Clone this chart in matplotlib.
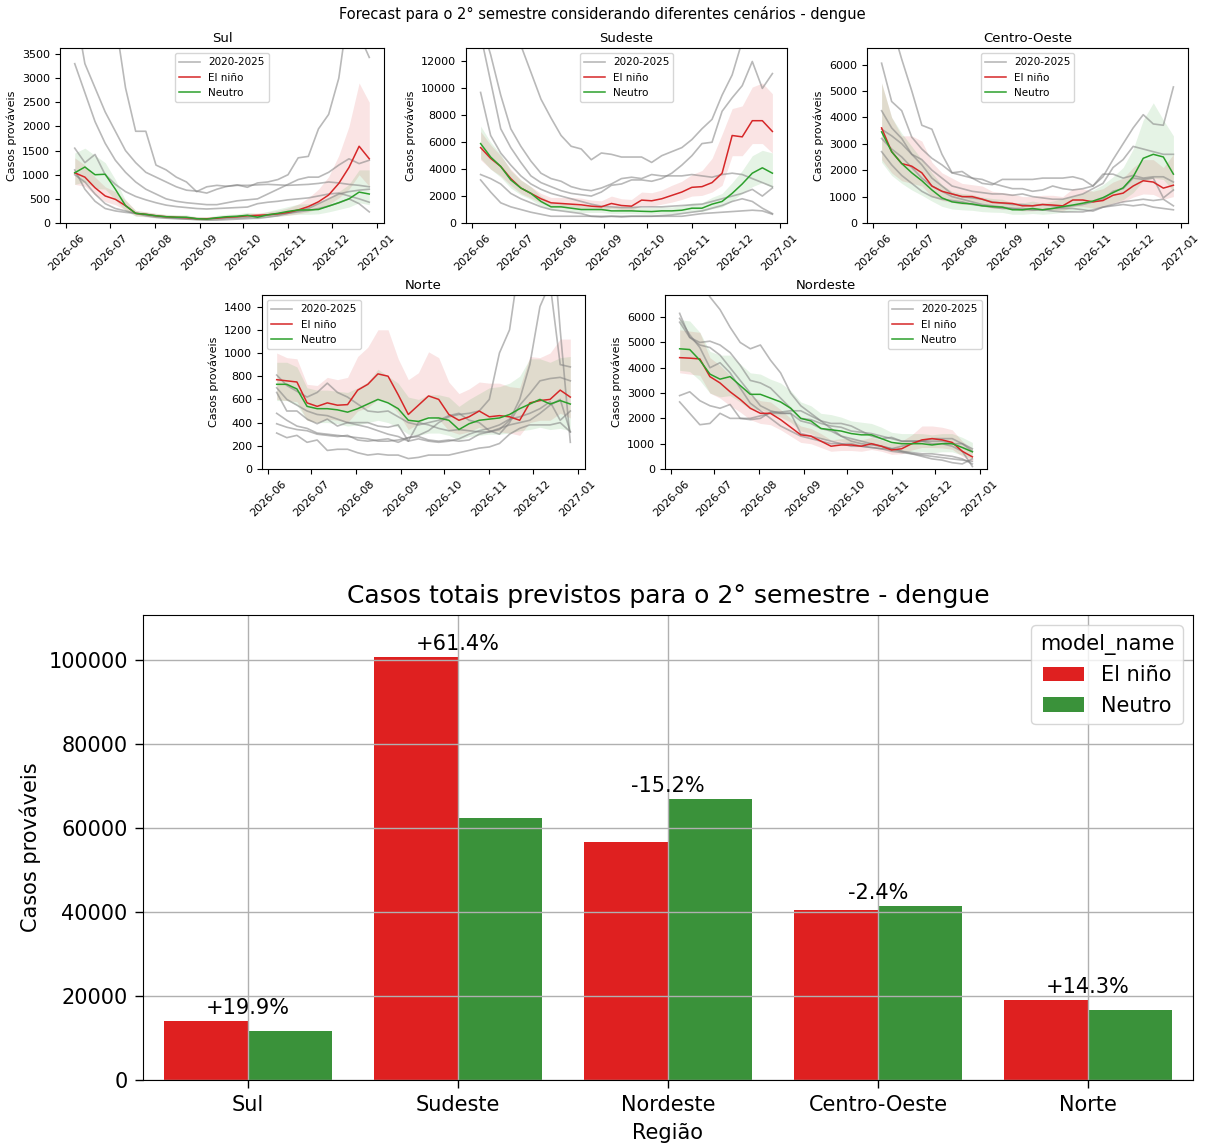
import matplotlib
matplotlib.use("Agg")
import matplotlib.pyplot as plt
import matplotlib.dates as mdates
from matplotlib.ticker import MaxNLocator
import pandas as pd

# Weekly forecast horizon (epidemiological weeks, 2nd semester)
weeks = pd.date_range("2026-06-07", periods=30, freq="7D")

# ---------------- Sul ----------------
sul_elnino = [1040, 950, 730, 560, 490, 360, 200, 180, 150, 130, 120, 110, 90, 90, 100,
              120, 130, 150, 160, 170, 190, 220, 270, 340, 440, 580, 820, 1150, 1590, 1330]
sul_elnino_lo = [800, 760, 580, 440, 380, 270, 150, 130, 110, 100, 90, 80, 65, 65, 75,
                 90, 100, 110, 120, 130, 140, 160, 190, 230, 300, 380, 520, 700, 1000, 760]
sul_elnino_hi = [1350, 1200, 950, 750, 650, 480, 260, 230, 200, 170, 160, 150, 120, 120, 130,
                 160, 170, 200, 210, 230, 260, 310, 390, 520, 700, 960, 1400, 2000, 2900, 2500]
sul_neutro = [1040, 1160, 1000, 1010, 700, 360, 200, 180, 150, 130, 120, 120, 90, 80, 110,
              130, 140, 160, 120, 170, 200, 240, 270, 270, 280, 350, 420, 500, 640, 600]
sul_neutro_lo = [800, 850, 720, 700, 480, 250, 140, 130, 100, 90, 80, 80, 60, 50, 70,
                 90, 100, 110, 80, 120, 140, 160, 180, 180, 190, 230, 280, 330, 420, 380]
sul_neutro_hi = [1450, 1550, 1400, 1250, 900, 470, 260, 230, 200, 180, 170, 170, 130, 120, 160,
                 180, 190, 220, 190, 240, 290, 340, 390, 400, 420, 520, 650, 800, 1100, 1100]
sul_hist = [
    [9000, 7500, 6000, 5000, 4200, 2800, 1900, 1900, 1200, 1100, 950, 850, 650, 750, 780,
     760, 790, 740, 830, 850, 900, 1000, 1350, 1380, 1950, 2250, 3000, 4500, 3900, 3430],
    [4500, 3300, 2800, 2300, 1900, 1500, 1250, 1050, 950, 850, 750, 680, 660, 620, 700,
     760, 780, 780, 790, 800, 790, 780, 790, 800, 820, 850, 830, 800, 780, 750],
    [3300, 2700, 2100, 1650, 1300, 1050, 850, 700, 600, 500, 450, 420, 400, 380, 380,
     420, 460, 480, 500, 600, 700, 800, 900, 950, 950, 1050, 1200, 1330, 1230, 1300],
    [1550, 1250, 1420, 1000, 800, 650, 550, 480, 420, 370, 340, 320, 300, 290, 300,
     310, 320, 330, 400, 430, 450, 480, 500, 520, 560, 600, 620, 560, 500, 430],
    [1100, 700, 450, 300, 250, 220, 200, 170, 140, 120, 100, 90, 80, 80, 90,
     100, 110, 120, 140, 160, 180, 200, 230, 260, 300, 350, 420, 500, 400, 230],
    [1000, 850, 600, 400, 300, 250, 200, 150, 120, 100, 90, 80, 70, 60, 60,
     70, 80, 90, 100, 120, 150, 200, 250, 300, 400, 500, 600, 650, 680, 700],
]

# ---------------- Sudeste ----------------
se_elnino = [5600, 4800, 4200, 3300, 2600, 2200, 1800, 1500, 1450, 1400, 1350, 1250, 1200, 1450, 1300,
             1250, 1700, 1650, 1800, 2050, 2300, 2650, 2700, 3000, 3700, 6500, 6400, 7600, 7600, 6800]
se_elnino_lo = [4700, 4000, 3500, 2800, 2200, 1850, 1500, 1200, 1150, 1100, 1050, 1000, 950, 1100, 1000,
                950, 1300, 1250, 1400, 1550, 1750, 2000, 2050, 2300, 2800, 5000, 5000, 5900, 5900, 5200]
se_elnino_hi = [6800, 5800, 5000, 4000, 3200, 2700, 2200, 1900, 1900, 1900, 1850, 1700, 1650, 2000, 1800,
                1750, 2300, 2250, 2450, 2800, 3100, 3600, 3900, 4800, 6600, 8500, 8700, 10100, 10400, 9600]
se_neutro = [5900, 4900, 4200, 3200, 2600, 2200, 1600, 1200, 1200, 1100, 1000, 1000, 1000, 900, 900,
             900, 870, 850, 900, 900, 950, 1100, 1100, 1400, 1600, 2200, 2900, 3700, 4100, 3700]
se_neutro_lo = [4800, 4000, 3400, 2600, 2100, 1750, 1250, 950, 950, 850, 780, 780, 780, 700, 700,
                700, 670, 650, 700, 700, 730, 850, 850, 1050, 1200, 1650, 2200, 2700, 3000, 2600]
se_neutro_hi = [7200, 6000, 5100, 3900, 3200, 2700, 2000, 1550, 1500, 1400, 1300, 1300, 1300, 1200, 1200,
                1200, 1150, 1150, 1200, 1200, 1300, 1500, 1500, 1900, 2200, 3000, 3900, 5000, 5400, 5200]
se_hist = [
    [15000, 12500, 9500, 7000, 5700, 4600, 3700, 3300, 3100, 2700, 2500, 2400, 2600, 2900, 3300,
     3400, 3300, 3600, 3500, 3500, 3500, 3600, 3500, 3400, 3600, 3700, 3600, 3300, 3000, 2700],
    [14000, 10500, 7000, 5600, 4500, 3500, 3000, 2700, 2400, 2200, 2100, 2000, 2300, 2800, 2900,
     3200, 3200, 3100, 3300, 3700, 4300, 5000, 5900, 6000, 8300, 9300, 10200, 12000, 10000, 11100],
    [20000, 18000, 16000, 14500, 13200, 11200, 9200, 7800, 6500, 5700, 5500, 4700, 5200, 5100, 4900,
     4900, 4900, 4500, 5000, 5300, 5600, 6200, 7000, 7700, 9500, 11000, 13500, 16000, 18000, 19000],
    [9700, 6500, 5200, 4300, 3500, 2900, 2500, 2200, 2000, 1800, 1600, 1400, 1250, 1200, 1150,
     1150, 1200, 1200, 1200, 1250, 1300, 1350, 1400, 1600, 1800, 2000, 2200, 2500, 2000, 2600],
    [3600, 3300, 2900, 2200, 1800, 1500, 1200, 1000, 900, 800, 700, 500, 450, 500, 450,
     500, 500, 500, 550, 600, 700, 800, 900, 1100, 1300, 1600, 1800, 1600, 1100, 700],
    [3200, 2300, 1500, 1200, 1000, 800, 650, 500, 500, 500, 500, 500, 500, 500, 500,
     500, 500, 500, 500, 500, 500, 600, 700, 750, 800, 850, 900, 950, 900, 650],
]

# ---------------- Centro-Oeste ----------------
co_elnino = [3600, 2700, 2250, 2150, 1900, 1400, 1200, 1100, 1000, 1000, 900, 780, 760, 740, 650,
             650, 700, 680, 650, 870, 870, 800, 850, 1050, 1130, 1400, 1600, 1550, 1320, 1430]
co_elnino_lo = [2400, 1900, 1600, 1500, 1400, 1000, 850, 780, 700, 700, 650, 560, 540, 520, 460,
                460, 500, 480, 460, 620, 620, 570, 600, 740, 800, 980, 1100, 1080, 900, 1000]
co_elnino_hi = [5300, 4000, 3300, 3300, 3100, 2300, 1900, 1700, 1500, 1450, 1400, 1200, 1150, 1100, 1000,
                1000, 1050, 1050, 1000, 1300, 1300, 1200, 1300, 1550, 1700, 2100, 2400, 2400, 2100, 2600]
co_neutro = [3450, 2700, 2250, 1900, 1600, 1250, 950, 800, 750, 720, 650, 620, 600, 500, 500,
             550, 500, 550, 620, 680, 750, 830, 960, 1150, 1330, 1750, 2450, 2600, 2500, 1850]
co_neutro_lo = [2300, 1800, 1500, 1250, 1050, 830, 630, 530, 500, 480, 430, 410, 400, 330, 330,
                360, 330, 360, 410, 450, 500, 550, 640, 760, 880, 1150, 1600, 1700, 1650, 1200]
co_neutro_hi = [5300, 4000, 3400, 2900, 2400, 1900, 1450, 1200, 1120, 1080, 980, 930, 900, 760, 760,
                830, 760, 830, 930, 1030, 1130, 1250, 1450, 1750, 2100, 2800, 3900, 4550, 3900, 3300]
co_hist = [
    [9000, 7500, 6200, 5000, 3700, 3550, 2600, 1900, 1950, 1700, 1500, 1450, 1650, 1650, 1650,
     1650, 1700, 1700, 1700, 1750, 1650, 1400, 1850, 1850, 1700, 1800, 1700, 1750, 1750, 1550],
    [6050, 4600, 4250, 3250, 2800, 2450, 2200, 1900, 1800, 1700, 1650, 1500, 1400, 1300, 1300,
     1200, 1250, 1400, 1300, 1250, 1300, 1400, 1750, 2400, 3000, 3600, 4100, 3750, 3700, 5150],
    [4250, 3600, 3200, 2600, 2400, 2000, 1700, 1400, 1300, 1200, 1150, 1100, 1100, 1050, 1100,
     1000, 950, 900, 900, 1000, 1100, 1300, 1500, 2100, 2400, 2900, 2800, 2700, 2600, 2600],
    [3550, 3300, 3000, 2600, 2200, 1700, 1400, 1100, 1000, 950, 900, 800, 750, 700, 700,
     650, 700, 650, 600, 650, 700, 800, 900, 1200, 1300, 1700, 1650, 1700, 950, 1250],
    [2700, 2200, 1800, 1500, 1200, 1000, 900, 850, 800, 700, 650, 600, 550, 550, 500,
     500, 500, 550, 550, 550, 500, 450, 600, 700, 800, 850, 900, 850, 900, 650],
    [3200, 2800, 2500, 2100, 1700, 1400, 1200, 1000, 900, 800, 700, 650, 600, 550, 550,
     500, 500, 450, 420, 420, 420, 500, 600, 650, 700, 650, 700, 600, 550, 500],
]

# ---------------- Norte ----------------
no_elnino = [770, 760, 750, 570, 540, 570, 550, 555, 680, 730, 820, 800, 640, 470, 550,
             630, 600, 470, 420, 450, 500, 450, 460, 450, 420, 570, 590, 600, 680, 620]
no_elnino_lo = [600, 590, 580, 420, 400, 430, 420, 400, 500, 530, 600, 580, 480, 340, 390,
                460, 430, 330, 300, 320, 360, 320, 320, 310, 290, 400, 420, 420, 480, 440]
no_elnino_hi = [1000, 960, 950, 730, 720, 790, 770, 790, 970, 1050, 1200, 1200, 950, 770, 830,
                1010, 960, 750, 650, 690, 750, 740, 740, 710, 700, 970, 960, 1000, 1120, 1120]
no_neutro = [730, 730, 690, 540, 520, 520, 510, 490, 520, 560, 600, 570, 520, 420, 410,
             440, 440, 420, 340, 390, 420, 430, 440, 470, 520, 560, 600, 560, 590, 560]
no_neutro_lo = [590, 590, 550, 420, 400, 400, 390, 370, 380, 400, 420, 400, 360, 300, 290,
                310, 310, 290, 250, 280, 290, 300, 300, 310, 330, 340, 360, 340, 350, 330]
no_neutro_hi = [920, 920, 880, 700, 680, 680, 670, 660, 700, 750, 860, 800, 740, 620, 600,
                640, 640, 620, 540, 600, 650, 700, 710, 740, 800, 950, 950, 920, 960, 970]
no_hist = [
    [810, 720, 670, 620, 660, 740, 660, 620, 560, 500, 490, 500, 450, 400, 380,
     400, 420, 460, 480, 420, 400, 330, 300, 400, 550, 650, 760, 780, 790, 760],
    [660, 500, 500, 430, 390, 430, 370, 400, 400, 400, 370, 360, 380, 240, 400,
     380, 350, 330, 340, 330, 320, 320, 340, 420, 600, 900, 1400, 1600, 900, 880],
    [480, 420, 370, 350, 310, 300, 290, 280, 270, 260, 240, 240, 250, 270, 290,
     330, 400, 450, 470, 480, 500, 600, 1000, 1200, 1800, 2200, 2500, 2300, 1200, 230],
    [390, 360, 340, 330, 300, 290, 280, 290, 250, 240, 250, 260, 230, 270, 280,
     250, 240, 250, 240, 250, 300, 320, 350, 380, 400, 420, 480, 550, 600, 320],
    [310, 270, 290, 230, 250, 160, 170, 170, 140, 120, 130, 120, 120, 90, 100,
     120, 120, 120, 140, 160, 180, 190, 220, 300, 350, 380, 380, 380, 400, 320],
    [700, 600, 550, 500, 470, 460, 430, 400, 380, 360, 330, 300, 280, 240, 260,
     240, 230, 240, 260, 300, 330, 350, 380, 430, 450, 480, 520, 580, 420, 500],
]

# ---------------- Nordeste ----------------
ne_elnino = [4400, 4380, 4350, 3650, 3400, 3050, 2750, 2400, 2200, 2200, 1950, 1650, 1350, 1300, 1100,
             900, 950, 950, 900, 1000, 900, 750, 800, 1000, 1150, 1200, 1150, 1050, 700, 480]
ne_elnino_lo = [3800, 3750, 3700, 3000, 2800, 2500, 2250, 1950, 1800, 1750, 1550, 1300, 1050, 1000, 850,
                700, 730, 730, 700, 770, 700, 580, 600, 750, 850, 850, 830, 780, 500, 300]
ne_elnino_hi = [5500, 5450, 5400, 4400, 4100, 3700, 3300, 2900, 2700, 2650, 2350, 2000, 1700, 1600, 1400,
                1150, 1200, 1200, 1150, 1250, 1150, 1000, 1100, 1350, 1700, 1700, 1650, 1550, 1100, 800]
ne_neutro = [4750, 4720, 4300, 3750, 3550, 3650, 3300, 2950, 2950, 2800, 2650, 2400, 2000, 1900, 1600,
             1550, 1500, 1400, 1350, 1350, 1200, 1050, 1000, 1000, 1000, 950, 1000, 1000, 850, 680]
ne_neutro_lo = [3900, 3850, 3500, 3000, 2850, 2900, 2650, 2350, 2350, 2200, 2050, 1850, 1500, 1400, 1200,
                1150, 1100, 1000, 950, 950, 850, 720, 680, 680, 680, 640, 680, 680, 550, 400]
ne_neutro_hi = [5900, 5850, 5400, 4650, 4500, 4500, 4150, 3800, 3750, 3550, 3400, 3100, 2650, 2500, 2200,
                2150, 2050, 1900, 1850, 1800, 1650, 1450, 1400, 1400, 1400, 1350, 1400, 1400, 1250, 1050]
ne_hist = [
    [9500, 8500, 7500, 6800, 6300, 5600, 5000, 4750, 4900, 4300, 3800, 3000, 2500, 2200, 1900,
     1800, 1800, 1700, 1500, 1300, 1200, 1250, 1100, 1100, 1100, 1100, 1100, 1000, 1000, 800],
    [6150, 5200, 5000, 5050, 4900, 4600, 4100, 3500, 3400, 3200, 2800, 2400, 2000, 1950, 1800,
     1700, 1650, 1500, 1450, 1400, 1300, 1200, 1100, 1100, 1100, 1000, 1000, 900, 700, 100],
    [5950, 5300, 4800, 4000, 4200, 3800, 3200, 2600, 2300, 2000, 1700, 1500, 1300, 1200, 1100,
     1000, 1000, 900, 900, 850, 800, 700, 650, 600, 550, 500, 450, 400, 350, 300],
    [5800, 5200, 4900, 4800, 4500, 4000, 3500, 3000, 2500, 2300, 2200, 2200, 1900, 1800, 1600,
     1500, 1300, 1200, 1100, 1000, 900, 800, 700, 650, 600, 600, 550, 500, 400, 200],
    [2900, 3050, 2700, 2500, 2400, 2550, 2000, 1950, 2000, 2250, 2250, 2300, 2300, 2100, 1900,
     1600, 1300, 1100, 1000, 950, 900, 800, 700, 600, 500, 400, 350, 250, 200, 400],
    [2650, 2200, 1750, 1800, 2200, 2000, 2000, 2000, 2100, 2200, 2200, 2200, 1400, 1300, 1200,
     1100, 1000, 1000, 900, 850, 800, 800, 900, 1000, 1100, 1200, 1200, 1200, 1000, 700],
]

# ---------------- Semester totals ----------------
regions = ["Sul", "Sudeste", "Nordeste", "Centro-Oeste", "Norte"]
total_elnino = [13970, 100550, 56650, 40360, 18920]
total_neutro = [11650, 62300, 66800, 41350, 16550]

W, H = 1205, 1145
fig = plt.figure(figsize=(W / 100, H / 100), dpi=100)


def px_rect(x0, y0, x1, y1):
    return [x0 / W, 1 - y1 / H, (x1 - x0) / W, (y1 - y0) / H]


def draw_panel(ax, title, hist, el, el_lo, el_hi, neu, neu_lo, neu_hi, loc):
    for i, serie in enumerate(hist):
        ax.plot(weeks, serie, color="grey", alpha=0.55, lw=1.2,
                label="2020-2025" if i == 0 else None)
    ax.fill_between(weeks, el_lo, el_hi, color="tab:red", alpha=0.12, lw=0)
    ax.plot(weeks, el, color="tab:red", lw=1.1, label="El niño")
    ax.fill_between(weeks, neu_lo, neu_hi, color="tab:green", alpha=0.12, lw=0)
    ax.plot(weeks, neu, color="tab:green", lw=1.1, label="Neutro")
    ax.set_ylim(0, 1.25 * max(el_hi))
    ax.yaxis.set_major_locator(MaxNLocator(8))
    ax.set_title(title, fontsize=9.5, pad=4)
    ax.set_ylabel("Casos prováveis", fontsize=8)
    ax.xaxis.set_major_locator(mdates.MonthLocator())
    ax.xaxis.set_major_formatter(mdates.DateFormatter("%Y-%m"))
    ax.tick_params(labelsize=8)
    for lbl in ax.get_xticklabels():
        lbl.set_rotation(45)
        lbl.set_ha("center")
    ax.legend(loc=loc, fontsize=7.5)


panels = [
    ("Sul", (60, 48, 384, 223), sul_hist, sul_elnino, sul_elnino_lo, sul_elnino_hi,
     sul_neutro, sul_neutro_lo, sul_neutro_hi, "upper center"),
    ("Sudeste", (466, 48, 787, 223), se_hist, se_elnino, se_elnino_lo, se_elnino_hi,
     se_neutro, se_neutro_lo, se_neutro_hi, "upper center"),
    ("Centro-Oeste", (867, 48, 1188, 223), co_hist, co_elnino, co_elnino_lo, co_elnino_hi,
     co_neutro, co_neutro_lo, co_neutro_hi, "upper center"),
    ("Norte", (262, 295, 585, 469), no_hist, no_elnino, no_elnino_lo, no_elnino_hi,
     no_neutro, no_neutro_lo, no_neutro_hi, "upper left"),
    ("Nordeste", (665, 295, 987, 469), ne_hist, ne_elnino, ne_elnino_lo, ne_elnino_hi,
     ne_neutro, ne_neutro_lo, ne_neutro_hi, "upper right"),
]

for name, box, hist, el, el_lo, el_hi, neu, neu_lo, neu_hi, loc in panels:
    ax = fig.add_axes(px_rect(*box))
    draw_panel(ax, name, hist, el, el_lo, el_hi, neu, neu_lo, neu_hi, loc)

fig.text(0.5, 1 - 14 / H, "Forecast para o 2° semestre considerando diferentes cenários - dengue",
         ha="center", va="center", fontsize=10.5)

# ---------------- Bar chart of totals ----------------
bx = fig.add_axes(px_rect(143, 615, 1193, 1080))
pos = list(range(len(regions)))
bx.bar([p - 0.2 for p in pos], total_elnino, width=0.4, color="#df2020", label="El niño")
bx.bar([p + 0.2 for p in pos], total_neutro, width=0.4, color="#3a923a", label="Neutro")
bx.set_xlim(-0.5, len(regions) - 0.5)
bx.set_ylim(0, 1.1 * max(total_elnino + total_neutro))
bx.set_xticks(pos)
bx.set_xticklabels(regions)
bx.tick_params(labelsize=15, length=5.5, pad=5.5, width=1)
bx.grid(True, color="#b0b0b0", lw=1.0)
bx.set_xlabel("Região", fontsize=15, labelpad=5.5)
bx.set_ylabel("Casos prováveis", fontsize=15, labelpad=5)
bx.set_title("Casos totais previstos para o 2° semestre - dengue", fontsize=18, pad=8.7)
for p, e, n in zip(pos, total_elnino, total_neutro):
    pct = (e - n) / n * 100
    bx.annotate(f"{pct:+.1f}%", (p, max(e, n)), xytext=(0, 5.5), textcoords="offset points",
                ha="center", va="baseline", fontsize=15)
bx.legend(title="model_name", loc="upper right", fontsize=15, title_fontsize=15)

fig.savefig("out.png", dpi=100)
